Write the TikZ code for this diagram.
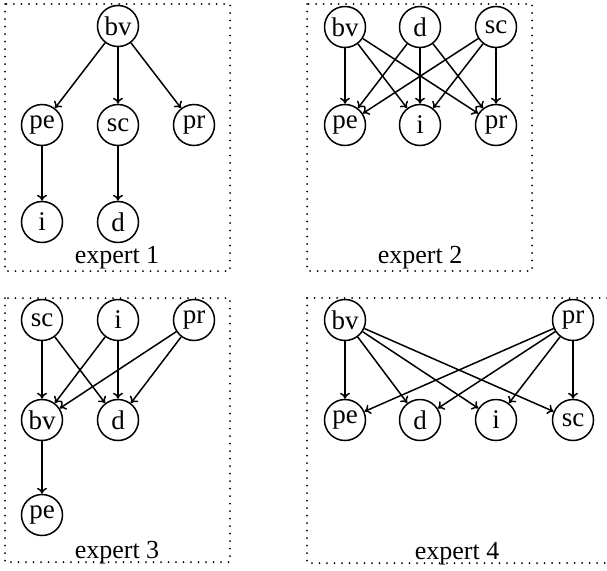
\documentclass[tikz,border=0pt]{standalone}
\usepackage{fontspec}
\setmainfont{Liberation Serif}
\usetikzlibrary{arrows.meta}
\begin{document}
\begin{tikzpicture}[x=1pt,y=-1pt,
  vnode/.style={circle,draw,line width=1.5pt,minimum size=41pt,inner sep=0pt,font=\fontsize{27}{27}\selectfont},
  edge/.style={-{To[length=6pt,width=10pt]},line width=1.5pt},
  frame/.style={line width=2pt,line cap=round,dash pattern=on 0pt off 7.5pt},
  lbl/.style={anchor=base,font=\fontsize{26}{26}\selectfont,inner sep=0pt}]
\useasboundingbox (0,0) rectangle (607,570);
% frames
\draw[frame] (5,4) rectangle (230,271);
\draw[frame] (307,4) rectangle (532,271);
\draw[frame] (5,298) rectangle (230,562);
\draw[frame] (307,298) -- (612,298);
\draw[frame] (307,298) -- (307,563) -- (612,563);
% expert 1
\node[vnode] (a-bv) at (118,26) {bv};
\node[vnode] (a-pe) at (42,125) {pe};
\node[vnode] (a-sc) at (118,125) {sc};
\node[vnode] (a-pr) at (194,125) {pr};
\node[vnode] (a-i) at (42,222) {i};
\node[vnode] (a-d) at (118,222) {d};
\node[lbl] (a-l) at (117,263) {expert 1};
\draw[edge] (a-bv) -- (a-pe);
\draw[edge] (a-bv) -- (a-sc);
\draw[edge] (a-bv) -- (a-pr);
\draw[edge] (a-pe) -- (a-i);
\draw[edge] (a-sc) -- (a-d);
% expert 2
\node[vnode] (b-bv) at (345,27) {bv};
\node[vnode] (b-d) at (420,27) {d};
\node[vnode] (b-sc) at (496,27) {sc};
\node[vnode] (b-pe) at (345,125) {pe};
\node[vnode] (b-i) at (420,125) {i};
\node[vnode] (b-pr) at (496,125) {pr};
\node[lbl] (b-l) at (420,263) {expert 2};
\foreach \s in {bv,d,sc}{\foreach \t in {pe,i,pr}{\draw[edge] (b-\s) -- (b-\t);}}
% expert 3
\node[vnode] (c-sc) at (42,320) {sc};
\node[vnode] (c-i) at (118,320) {i};
\node[vnode] (c-pr) at (194,320) {pr};
\node[vnode] (c-bv) at (42,420) {bv};
\node[vnode] (c-d) at (118,420) {d};
\node[vnode] (c-pe) at (42,515) {pe};
\node[lbl] (c-l) at (117,558) {expert 3};
\foreach \s in {sc,i,pr}{\foreach \t in {bv,d}{\draw[edge] (c-\s) -- (c-\t);}}
\draw[edge] (c-bv) -- (c-pe);
% expert 4
\node[vnode] (d-bv) at (345,320) {bv};
\node[vnode] (d-pr) at (573,320) {pr};
\node[vnode] (d-pe) at (345,420) {pe};
\node[vnode] (d-d) at (420,420) {d};
\node[vnode] (d-i) at (496,420) {i};
\node[vnode] (d-sc) at (573,420) {sc};
\node[lbl] (d-l) at (457,559) {expert 4};
\foreach \s in {bv,pr}{\foreach \t in {pe,d,i,sc}{\draw[edge] (d-\s) -- (d-\t);}}
\end{tikzpicture}
\end{document}
